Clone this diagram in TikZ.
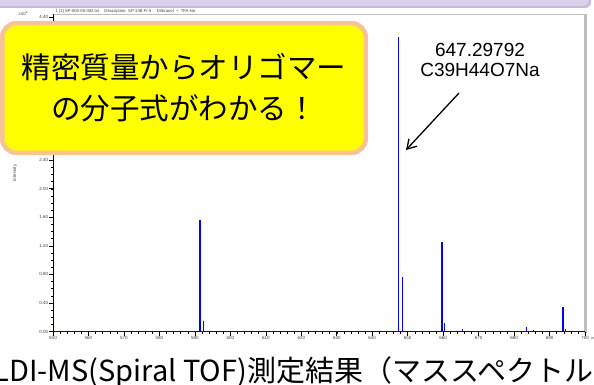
\documentclass[tikz,border=0pt]{standalone}
\usepackage{fontspec}
\setmainfont{Liberation Sans}
\newfontfamily\jpfont{Noto Sans CJK JP}
\usepackage{tikz}
\usetikzlibrary{
	positioning,
	arrows.meta
}

\definecolor{lavbar}{RGB}{217,210,234}
\definecolor{lavshade}{RGB}{196,186,218}
\definecolor{notefill}{RGB}{255,255,0}
\definecolor{noteedge}{RGB}{248,194,152}
\definecolor{framegray}{RGB}{190,190,190}
\definecolor{peakblue}{RGB}{0,0,255}

\tikzset{
	tiny/.style={font=\fontsize{4.5}{5}\selectfont, text=black!75, inner sep=0.5pt},
	peak/.style={peakblue, line width=1.6pt},
	smallpeak/.style={peakblue, line width=1pt},
	note/.style={draw=noteedge, line width=4.5pt, fill=notefill, rounded corners=14pt,
		minimum width=363.5pt, minimum height=129.5pt, align=center,
		font=\jpfont\fontsize{29.5}{41}\selectfont},
	label/.style={font=\fontsize{19}{22}\selectfont, inner sep=0pt}
}

\begin{document}
\begin{tikzpicture}[x=1pt,y=-1pt]
	\useasboundingbox (0,0) rectangle (594,385);
	% slide title bar, cut at the top
	\fill[lavshade, rounded corners=6pt] (-10,-20) rectangle (591,8);
	\fill[lavbar, rounded corners=6pt] (-10,-20) rectangle (589,6);
	% plot frame
	\draw[framegray, line width=0.8pt] (53,14) -- (586,14);
	\draw[framegray, line width=2.5pt] (585.5,14) -- (585.5,333);
	\node[tiny, anchor=west, font=\fontsize{4.2}{5}\selectfont] (header) at (55,11)
		{1 [1] SP-003-00-002.txt \quad Description: SP-13B Fr-5 \quad Dithranol \ + \ TFA-Na};
	\node[tiny, anchor=west] (exponent) at (18,13) {x10\textsuperscript{4}};
	\node[tiny, rotate=90] (ylabel) at (15,173) {Intensity};
	% spectrum, in m/z and intensity units
	\begin{scope}[shift={({53-550*3.547},331.5)}, x=3.547pt, y=71.375pt]
		\foreach \k in {0,...,44}
			\draw[black, line width=0.5pt] (550,\k/10) -- ++(-2pt,0pt);
		% labels 2.80 to 4.00 lie under the callout
		\foreach \v/\lab in {0/0.00,0.4/0.40,0.8/0.80,1.2/1.20,1.6/1.60,2.0/2.00,
				2.4/2.40,4.4/4.40}
			\draw[black, line width=0.6pt] (550,\v) -- ++(-4pt,0pt)
				node[tiny, anchor=east] (ytick-\lab) {\lab};
		\foreach \m in {550,552,...,700}
			\draw[black, line width=0.5pt] (\m,0) -- ++(0pt,-2pt);
		\foreach \m in {550,560,...,700}
			\draw[black, line width=0.6pt] (\m,0) -- ++(0pt,-4pt)
				node[tiny, anchor=north] (xtick-\m) {\m};
		\node[tiny, anchor=west, font=\fontsize{3.8}{4}\itshape] (mzlabel) at ([xshift=1pt]xtick-700.east) {m/z};
		\draw[black, line width=0.8pt] (550,4.45) -- (550,0) -- (700,0);
		\foreach \m/\h in {591.4/1.562, 647.4/4.126, 648.5/0.768, 659.6/1.258, 693.7/0.347}
			\draw[peak] (\m,0) -- (\m,\h);
		\foreach \m/\h in {592.4/0.150, 660.5/0.119, 665.5/0.035, 683.5/0.059, 685.6/0.020, 694.6/0.035}
			\draw[smallpeak] (\m,0) -- (\m,\h);
		\draw[peakblue!70!black, line width=0.4pt] (550,0) -- (700,0);
	\end{scope}
	% callout
	\node[note] (note) at (184,88) {精密質量からオリゴマー\\の分子式がわかる！};
	% peak annotation
	\node[label] (mass) at (480,49.5) {647.29792};
	\node[label, below=7pt of mass] (formula) {C39H44O7Na};
	\coordinate (arrowtail) at (459,93);
	\coordinate (arrowtip) at (406,150);
	\draw[line width=1.3pt, -{Straight Barb[length=9pt,width=11pt]}] (arrowtail) -- (arrowtip);
	% caption, cut at both sides
	\node[anchor=base west, inner sep=0pt, font=\jpfont\fontsize{29}{34}\selectfont] (caption)
		at (9,381) {\llap{MAL}DI-MS(Spiral TOF)測定結果（マススペクトル）};
\end{tikzpicture}
\end{document}
